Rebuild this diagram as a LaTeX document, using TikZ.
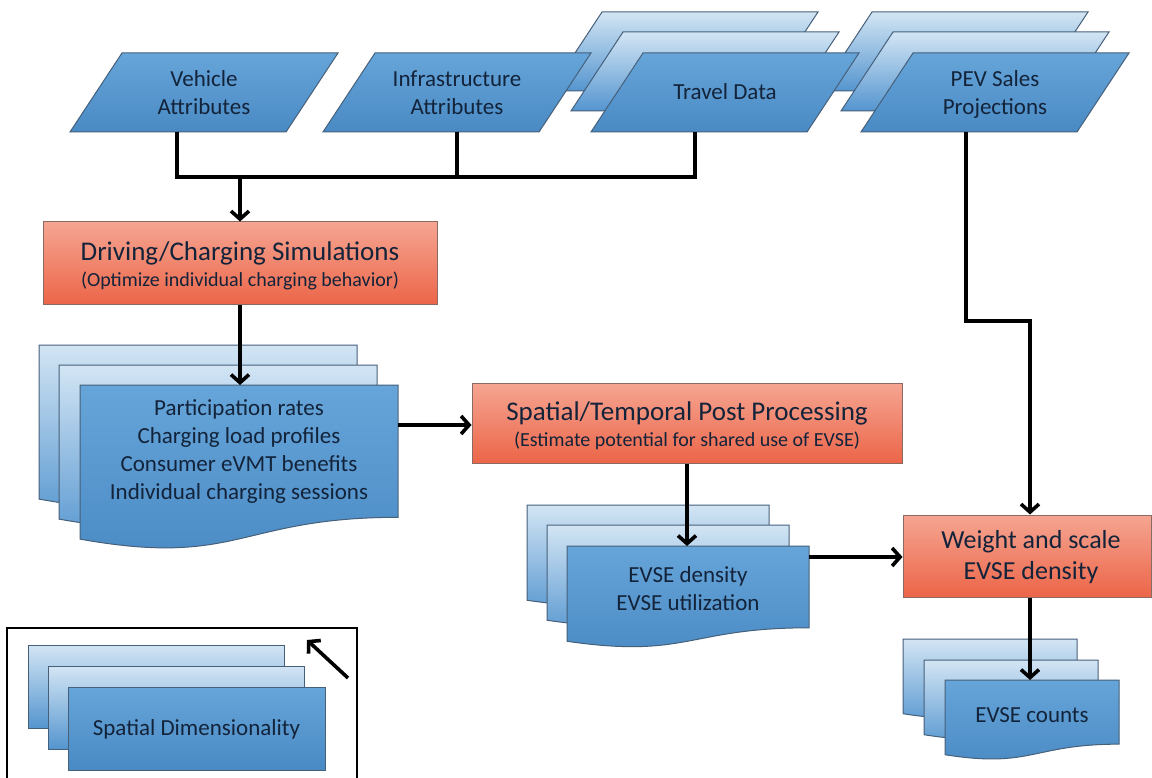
\documentclass[tikz,border=0pt]{standalone}
\usepackage{fontspec}
\setmainfont{Carlito}
\usetikzlibrary{arrows.meta,calc}
\definecolor{txtc}{HTML}{13233A}
\definecolor{edgec}{HTML}{46607A}
\definecolor{oedge}{HTML}{8A6A62}
\definecolor{bla}{HTML}{D3E5F4}
\definecolor{blb}{HTML}{BAD4EB}
\definecolor{blc}{HTML}{5495CF}
\definecolor{fba}{HTML}{66A5D9}
\definecolor{fbb}{HTML}{4A8AC4}
\definecolor{ora}{HTML}{F5A592}
\definecolor{orb}{HTML}{EC6548}
\newcommand\docshape[5]{%
  \path[#1] (#2,#3) -- ({#2+#4},#3) -- ({#2+#4},{#3+0.802*#5})
    .. controls ({#2+0.5*#4},{#3+0.802*#5}) and ({#2+0.5*#4},{#3+1.107*#5}) ..
    (#2,{#3+0.934*#5}) -- cycle;}
\newcommand\paral[3]{%
  \path[#1] (#2,#3) -- ({#2+216},#3) -- ({#2+164},{#3+79}) -- ({#2-52},{#3+79}) -- cycle;}
\newcommand\stacklines[1]{\begin{tabular}[t]{@{}c@{}}#1\end{tabular}}
\tikzset{
  backfill/.style={draw=edgec, line width=1pt, top color=bla, middle color=blb, bottom color=blc},
  frontfill/.style={draw=edgec, line width=1pt, top color=fba, bottom color=fbb},
  obox/.style={draw=oedge, line width=1pt, top color=ora, bottom color=orb, inner sep=0pt},
  txt/.style={text=txtc, font=\fontsize{23}{28}\selectfont, inner sep=0pt, anchor=base},
  ttl/.style={text=txtc, font=\fontsize{27}{33}\selectfont, inner sep=0pt, anchor=base},
  subt/.style={text=txtc, font=\fontsize{20}{24}\selectfont, inner sep=0pt, anchor=base},
  wtx/.style={text=txtc, font=\fontsize{26}{31}\selectfont, inner sep=0pt, anchor=base},
  conn/.style={draw=black, line width=3.6pt},
  arr/.style={conn, -{Straight Barb[length=8pt,width=18pt]}},
}
\begin{document}
\begin{tikzpicture}[x=1pt,y=-1pt]
\useasboundingbox (0,0) rectangle (1152,778);
\fill[white] (0,0) rectangle (1152,778);

% ---- top parallelograms: back layers
\paral{backfill}{602}{12}
\paral{backfill}{623}{32}
\paral{backfill}{872}{12}
\paral{backfill}{893}{32}
% ---- front layers
\paral{frontfill}{122}{53}
\paral{frontfill}{375}{53}
\paral{frontfill}{643}{53}
\paral{frontfill}{913}{53}
\node[txt] (veh) at (204,87) {\stacklines{Vehicle\\Attributes}};
\node[txt] (inf) at (457,87) {\stacklines{Infrastructure\\Attributes}};
\node[txt] (trv) at (725,100) {Travel Data};
\node[txt] (pev) at (995,87) {\stacklines{PEV Sales\\Projections}};

% ---- process boxes
\node[obox, minimum width=394pt, minimum height=83pt] (drive) at (240,263.5) {};
\node[ttl] (driveT) at (240,260.5) {Driving/Charging Simulations};
\node[subt] (driveS) at (240,287) {(Optimize individual charging behavior)};

\node[obox, minimum width=430pt, minimum height=80pt] (spatial) at (687,423) {};
\node[ttl] (spatialT) at (687,420) {Spatial/Temporal Post Processing};
\node[subt] (spatialS) at (687,446) {(Estimate potential for shared use of EVSE)};

\node[obox, minimum width=248pt, minimum height=82pt] (weight) at (1027,556) {};
\node[wtx] (weightT) at (1031,548.5) {\stacklines{Weight and scale\\EVSE density}};

% ---- document stacks
\docshape{backfill}{39}{345}{318}{165}
\docshape{backfill}{59}{365}{318}{165}
\docshape{frontfill}{80}{385}{318}{165}
\node[txt] (out1) at (239,415) {\stacklines{Participation rates\\Charging load profiles\\Consumer eVMT benefits\\Individual charging sessions}};

\docshape{backfill}{527}{505}{242}{102}
\docshape{backfill}{547}{525}{242}{102}
\docshape{frontfill}{567}{546}{242}{102}
\node[txt] (out2) at (688,582) {\stacklines{EVSE density\\EVSE utilization}};

\docshape{backfill}{903}{639}{174}{80}
\docshape{backfill}{924}{660}{174}{80}
\docshape{frontfill}{945}{680}{174}{80}
\node[txt] (out3) at (1032,722) {EVSE counts};

% ---- legend
\draw[black, line width=1.6pt] (7,782) -- (7,628) -- (357,628) -- (357,782);
\path[backfill] (28,645) rectangle (284,728);
\path[backfill] (48,666) rectangle (304,749);
\path[frontfill] (68,687) rectangle (325,770);
\node[txt] (leg) at (196.5,735) {Spatial Dimensionality};

% ---- connector anchors
\coordinate (vehB) at (177,132);
\coordinate (infB) at (457,132);
\coordinate (trvB) at (695,132);
\coordinate (J) at (240,177);
\coordinate (pevB) at (966,132);
\coordinate (pevK) at (966,321);
\coordinate (s1T) at (240,385);
\coordinate (s1R) at (398,425);
\coordinate (s2T) at (687,546);
\coordinate (s2R) at (809,557);
\coordinate (s3T) at (1030,680);
\coordinate (lgA) at (348,678);
\coordinate (lgB) at (307,640);

% ---- connectors
\draw[conn] (vehB) -- (vehB |- J) -- (trvB |- J) -- (trvB);
\draw[conn] (infB) -- (infB |- J);
\draw[arr] (J) -- (drive.north);
\draw[arr] (drive.south) -- (s1T);
\draw[arr] (s1R) -- (s1R -| spatial.west);
\draw[arr] (spatial.south) -- (s2T);
\draw[arr] (pevB) -- (pevK) -- (pevK -| s3T) -- (s3T |- weight.north);
\draw[arr] (s2R) -- (s2R -| weight.west);
\draw[arr] (s3T |- weight.south) -- (s3T);
\draw[arr] (lgA) -- (lgB);
\end{tikzpicture}
\end{document}
